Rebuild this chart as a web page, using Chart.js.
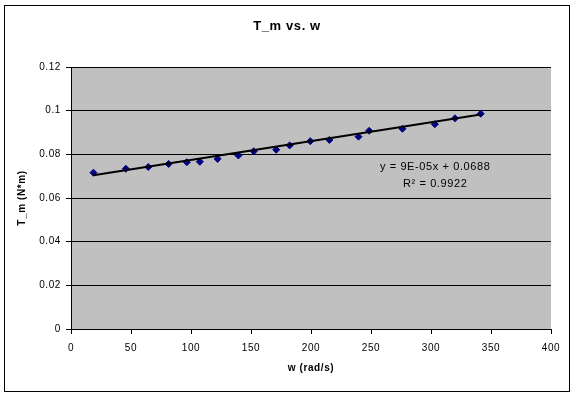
<!DOCTYPE html>
<html>
<head>
<meta charset="utf-8">
<script src="https://cdn.jsdelivr.net/npm/chart.js@4/dist/chart.umd.min.js"></script>
<style>
html,body{margin:0;padding:0;background:#fff;}
#wrap{width:576px;height:394px;position:relative;}
</style>
</head>
<body>
<div id="wrap"><canvas id="c"></canvas></div>
<script>
// Data
const wValues = [18.7, 45.7, 64.4, 81.4, 96.5, 107.4, 122.2, 139.5, 152.3, 171.0, 182.2, 199.4, 215.3, 239.6, 248.5, 276.2, 303.2, 320.0, 341.4];
const tmValues = [0.0716, 0.0734, 0.0742, 0.0756, 0.0764, 0.0766, 0.0779, 0.0795, 0.0814, 0.0821, 0.0841, 0.0860, 0.0866, 0.0881, 0.0908, 0.0917, 0.0938, 0.0965, 0.0986];
const trendX = [18.7, 341.4];
const trendY = [0.0704, 0.0982];
const xTicks = [0, 50, 100, 150, 200, 250, 300, 350, 400];
const yTicks = [0, 0.02, 0.04, 0.06, 0.08, 0.1, 0.12];
const chartTitle = 'T_m vs. w';
const equationLines = ['y = 9E-05x + 0.0688', 'R² = 0.9922'];

const FONT = "'Liberation Sans', Arial, sans-serif";

const points = wValues.map((w, i) => ({x: w, y: tmValues[i]}));
const trend = trendX.map((x, i) => ({x: x, y: trendY[i]}));

const decorPlugin = {
  id: 'decor',
  beforeInit(chart) {
    chart.ctx.letterSpacing = '0.6px';
  },
  beforeDraw(chart) {
    const ctx = chart.ctx;
    const a = chart.chartArea;
    ctx.letterSpacing = '0.6px';
    ctx.save();
    ctx.fillStyle = '#ffffff';
    ctx.fillRect(0, 0, chart.width, chart.height);
    ctx.fillStyle = '#C0C0C0';
    ctx.fillRect(a.left, a.top, a.right - a.left, a.bottom - a.top);
    ctx.strokeStyle = '#000';
    ctx.lineWidth = 1;
    ctx.strokeRect(4.5, 5.5, 565, 386);
    // chart title
    ctx.fillStyle = '#000';
    ctx.font = 'bold 13px ' + FONT;
    ctx.textAlign = 'center';
    ctx.textBaseline = 'middle';
    ctx.fillText(chartTitle, 287, 26);
    ctx.restore();
  },
  afterDatasetsDraw(chart) {
    const ctx = chart.ctx;
    const xs = chart.scales.x, ys = chart.scales.y;
    ctx.save();
    ctx.fillStyle = '#000';
    ctx.font = '11px ' + FONT;
    ctx.textAlign = 'center';
    ctx.textBaseline = 'middle';
    const cx = xs.getPixelForValue(303.5);
    ctx.fillText(equationLines[0], cx, ys.getPixelForValue(0.0744));
    ctx.fillText(equationLines[1], cx, ys.getPixelForValue(0.0666));
    ctx.restore();
  }
};

new Chart(document.getElementById('c'), {
  type: 'scatter',
  data: {
    datasets: [
      {
        label: 'T_m',
        data: points,
        pointStyle: 'rectRot',
        pointRadius: 3.5,
        pointBackgroundColor: '#000080',
        pointBorderColor: '#000080',
        showLine: false,
        order: 2
      },
      {
        label: 'trend',
        type: 'line',
        data: trend,
        borderColor: '#000',
        borderWidth: 2,
        pointRadius: 0,
        fill: false,
        order: 1
      }
    ]
  },
  options: {
    responsive: true,
    maintainAspectRatio: false,
    animation: false,
    events: [],
    layout: { padding: { left: 0, right: 25, top: 67, bottom: 0 } },
    plugins: {
      legend: { display: false },
      tooltip: { enabled: false },
      title: { display: false }
    },
    scales: {
      x: {
        type: 'linear',
        min: 0, max: 400,
        afterBuildTicks(scale) { scale.ticks = xTicks.map(v => ({value: v})); },
        afterFit(scale) { scale.height = 65; },
        grid: { drawOnChartArea: false, drawTicks: true, tickLength: 5, tickColor: '#000' },
        border: { display: true, color: '#000', width: 1 },
        ticks: { color: '#000', padding: 8, font: { family: FONT, size: 10 }, maxRotation: 0 },
        title: { display: true, text: 'w (rad/s)', color: '#000', font: { family: FONT, size: 10, weight: 'bold' }, padding: { top: 0, bottom: 20 } }
      },
      y: {
        type: 'linear',
        min: 0, max: 0.12,
        afterBuildTicks(scale) { scale.ticks = yTicks.map(v => ({value: v})); },
        afterFit(scale) { scale.width = 71; },
        grid: { color: '#000', lineWidth: 1, drawTicks: true, tickLength: 5, tickColor: '#000' },
        border: { display: true, color: '#000', width: 1 },
        ticks: { color: '#000', padding: 5, font: { family: FONT, size: 10 }, callback: v => String(+v.toFixed(2)) },
        title: { display: true, text: 'T_m (N*m)', color: '#000', font: { family: FONT, size: 10, weight: 'bold' }, padding: { top: 16, bottom: 0 } }
      }
    }
  },
  plugins: [decorPlugin]
});
</script>
</body>
</html>
